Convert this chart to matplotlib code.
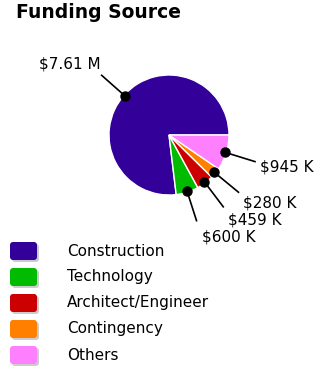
import numpy as np
import matplotlib.pyplot as plt
from matplotlib.patches import FancyBboxPatch

W, H = 321, 369

categories = ['Construction', 'Technology', 'Architect/Engineer', 'Contingency', 'Others']
amounts = [7610000, 600000, 459000, 280000, 945000]
value_labels = ['$7.61 M', '$600 K', '$459 K', '$280 K', '$945 K']
colors = ['#330099', '#00bb00', '#cc0000', '#ff8000', '#ff80ff']


def draw():
    fig = plt.figure(figsize=(W / 100, H / 100), dpi=100)
    ax = fig.add_axes([0, 0, 1, 1])

    # pie in pixel units, y measured upward
    cx, cy, r = 169, H - 135, 60
    wedges, _ = ax.pie(amounts, colors=colors, startangle=0, counterclock=True,
                       center=(cx, cy), radius=r,
                       wedgeprops=dict(edgecolor='white', linewidth=1))

    # leader lines with dots and value labels
    for w, lab in zip(wedges, value_labels):
        a = np.deg2rad((w.theta1 + w.theta2) / 2)
        ca, sa = np.cos(a), np.sin(a)
        x0, y0 = cx + 0.98 * r * ca, cy + 0.98 * r * sa
        x1, y1 = cx + 1.5 * r * ca, cy + 1.5 * r * sa
        ax.plot([x0, x1], [y0, y1], color='black', lw=1.2, zorder=3)
        ax.plot(x0, y0, 'o', color='black', ms=6.5, zorder=4)
        if ca >= 0:
            ax.text(x1 + 5, y1 + 17 * sa, lab, ha='left', va='center', fontsize=11)
        else:
            ax.text(x1 - 1, y1 + 17 * sa, lab, ha='right', va='center', fontsize=11)

    # legend
    for i, (name, c) in enumerate(zip(categories, colors)):
        yc = H - (251 + 26 * i)
        shadow = FancyBboxPatch((12, yc - 11), 27, 18,
                                boxstyle='round,pad=0,rounding_size=3',
                                facecolor='#cccccc', edgecolor='none')
        box = FancyBboxPatch((10, yc - 9), 27, 18,
                             boxstyle='round,pad=0,rounding_size=3',
                             facecolor=c, edgecolor='none')
        ax.add_patch(shadow)
        ax.add_patch(box)
        ax.text(67, yc, name, ha='left', va='center', fontsize=11)

    ax.text(16, H - 3, 'Funding Source', ha='left', va='top',
            fontsize=13.5, fontweight='bold')

    ax.set_xlim(0, W)
    ax.set_ylim(0, H)
    ax.set_aspect('equal')
    ax.axis('off')
    fig.savefig('out.png', dpi=100)


if __name__ == '__main__':
    draw()
